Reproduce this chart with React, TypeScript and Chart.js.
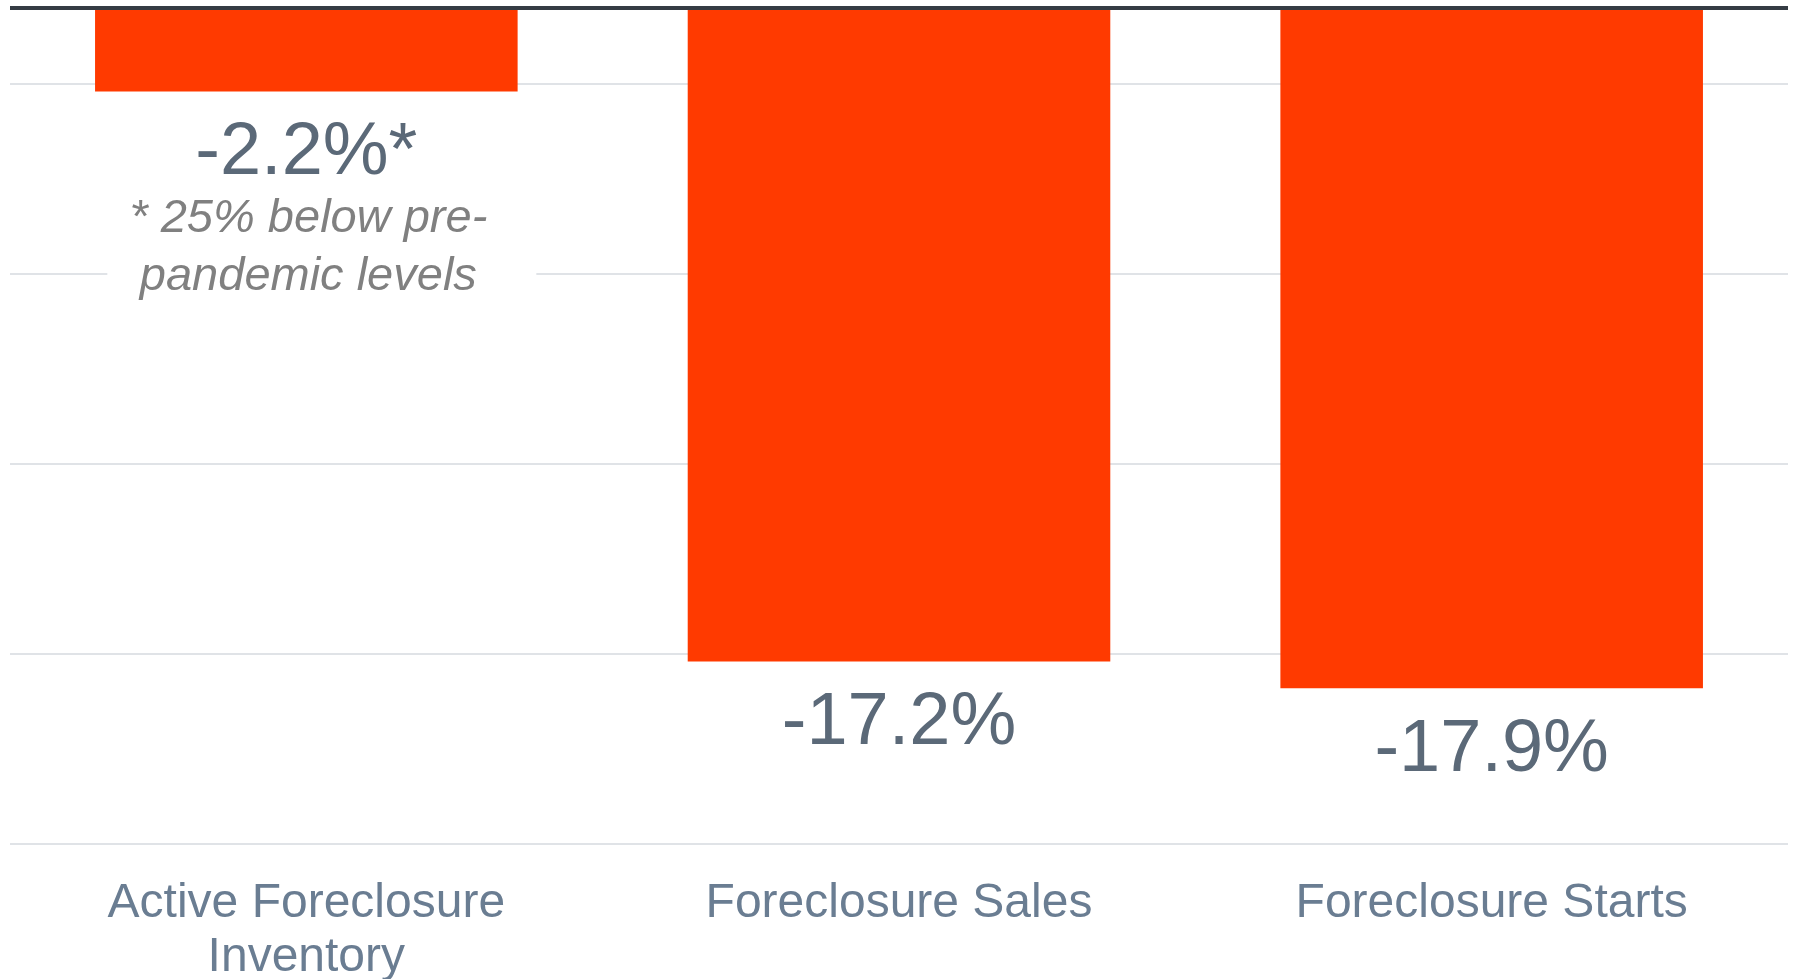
import React, { useEffect, useRef } from "react";
import { Chart, registerables } from "chart.js";

Chart.register(...registerables);

const categories: (string | string[])[] = [
  ["Active Foreclosure", "Inventory"],
  "Foreclosure Sales",
  "Foreclosure Starts",
];
const values: number[] = [-2.2, -17.2, -17.9];
const valueSuffixes: string[] = ["*", "", ""];
const yTicks: number[] = [-22, -17, -12, -7, -2, 0];
const noteLines: string[] = ["* 25% below pre-", "pandemic levels"];

const FONT = '"Liberation Sans", Arial, Helvetica, sans-serif';

export default function App() {
  const ref = useRef<HTMLCanvasElement | null>(null);

  useEffect(() => {
    const canvas = ref.current;
    if (!canvas) return;

    const labelPlugin = {
      id: "labels",
      beforeDatasetsDraw(chart: any) {
        const { ctx } = chart;
        const meta = chart.getDatasetMeta(0);
        const bar = meta.data[0];
        const y = chart.scales.y;
        const base = y.getPixelForValue(values[0]) + 82.5;
        ctx.save();
        ctx.fillStyle = "#ffffff";
        ctx.fillRect(bar.x - 199, base + 8, 429, 124);
        ctx.restore();
      },
      afterDatasetsDraw(chart: any) {
        const { ctx, chartArea } = chart;
        const y = chart.scales.y;
        const meta = chart.getDatasetMeta(0);
        ctx.save();
        const y0 = y.getPixelForValue(0);
        ctx.strokeStyle = "#353c44";
        ctx.lineWidth = 4;
        ctx.beginPath();
        ctx.moveTo(chartArea.left, y0);
        ctx.lineTo(chartArea.right, y0);
        ctx.stroke();

        ctx.textAlign = "center";
        ctx.textBaseline = "alphabetic";
        meta.data.forEach((el: any, i: number) => {
          const v = values[i];
          const bottom = y.getPixelForValue(v);
          const baseY = bottom + 82.5;
          ctx.fillStyle = "#5b6978";
          ctx.font = `74px ${FONT}`;
          ctx.fillText(`${v.toFixed(1)}%${valueSuffixes[i]}`, el.x, baseY);
          if (i === 0) {
            ctx.fillStyle = "#808080";
            ctx.font = `italic 47px ${FONT}`;
            noteLines.forEach((t, k) => {
              ctx.fillText(t, el.x + 2, baseY + 57.7 * (k + 1));
            });
          }
        });
        ctx.restore();
      },
    };

    const chart = new Chart(canvas, {
      type: "bar",
      data: {
        labels: categories,
        datasets: [
          {
            data: values,
            backgroundColor: "#ff3a00",
            borderWidth: 0,
            categoryPercentage: 1,
            barPercentage: 0.713,
          },
        ],
      },
      options: {
        responsive: false,
        animation: false,
        layout: { padding: { left: 10, right: 6, top: 8, bottom: -39 } },
        plugins: {
          legend: { display: false },
          tooltip: { enabled: false },
        },
        scales: {
          x: {
            grid: { display: false, drawTicks: false },
            border: { display: false },
            ticks: {
              color: "#6a7d92",
              padding: 33,
              maxRotation: 0,
              autoSkip: false,
              font: { family: FONT, size: 48, lineHeight: 1.125 },
            },
          },
          y: {
            min: -22,
            max: 0,
            afterBuildTicks: (scale: any) => {
              scale.ticks = yTicks.map((v) => ({ value: v }));
            },
            grid: {
              color: (c: any) => (c.tick && c.tick.value === 0 ? "rgba(0,0,0,0)" : "#e0e3e7"),
              lineWidth: 2,
              drawTicks: false,
            },
            border: { display: false },
            ticks: { display: false },
          },
        },
      },
      plugins: [labelPlugin],
    });

    return () => chart.destroy();
  }, []);

  return (
    <canvas
      ref={ref}
      width={1794}
      height={979}
      style={{ position: "fixed", left: 0, top: 0, display: "block", width: 1794, height: 979 }}
    />
  );
}
